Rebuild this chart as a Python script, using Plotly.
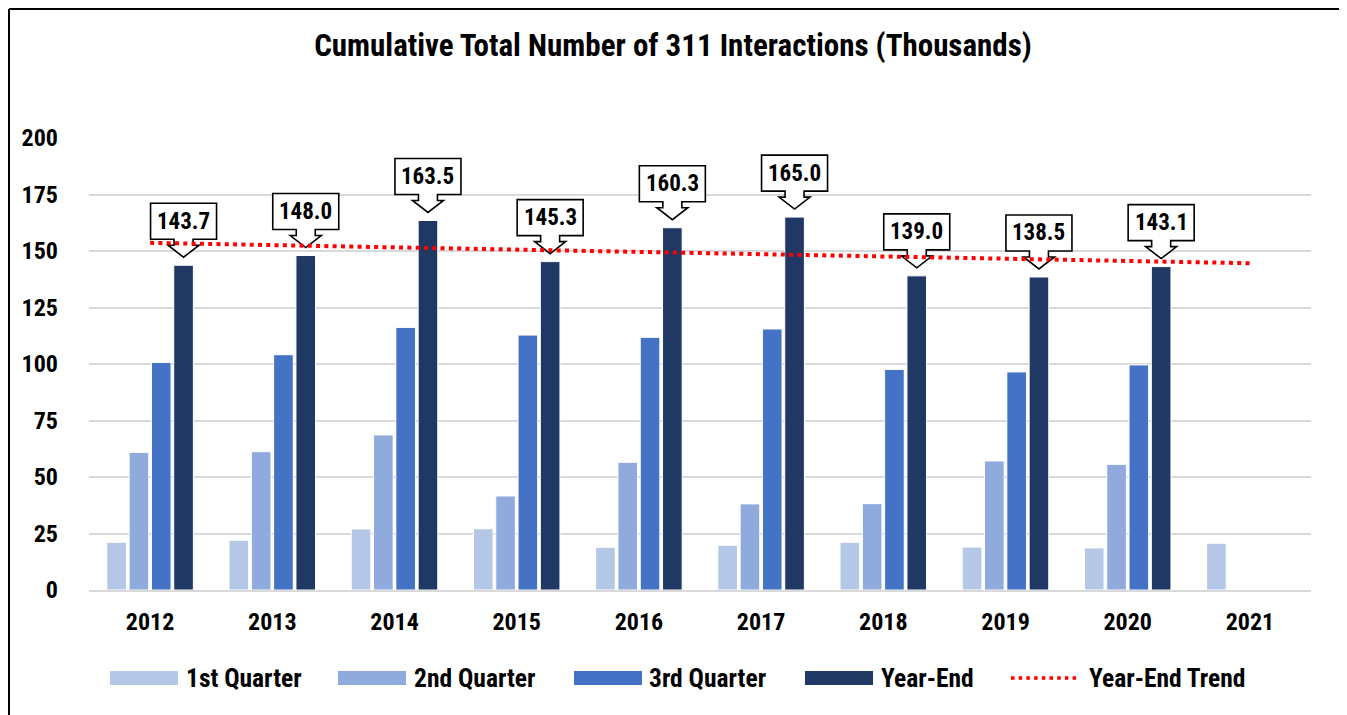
import numpy as np
import plotly.graph_objects as go

# ---------------- data ----------------
years = [2012, 2013, 2014, 2015, 2016, 2017, 2018, 2019, 2020, 2021]
q1 = [21.1, 22.0, 27.0, 27.1, 18.9, 19.8, 21.1, 19.0, 18.6, 20.7]
q2 = [60.9, 61.2, 68.6, 41.6, 56.5, 38.1, 38.2, 57.1, 55.6, None]
q3 = [100.7, 104.1, 116.2, 112.8, 111.8, 115.5, 97.6, 96.5, 99.6, None]
year_end = [143.7, 148.0, 163.5, 145.3, 160.3, 165.0, 139.0, 138.5, 143.1, None]
series_names = ["1st Quarter", "2nd Quarter", "3rd Quarter", "Year-End"]
trend_name = "Year-End Trend"
title_text = "Cumulative Total Number of 311 Interactions (Thousands)"
y_ticks = [0, 25, 50, 75, 100, 125, 150, 175, 200]

# ---------------- style ----------------
OFF = 8                      # page body margin of the html page
W, H = 1347 - OFF, 715 - OFF
ML, MR, MT, MB = 89 - OFF, 36, 138 - OFF, 125
PW, PH = W - ML - MR, H - MT - MB
FONT = "Roboto Condensed, DejaVu Sans Condensed, Liberation Sans Narrow, Liberation Sans, Arial, sans-serif"
FS_TITLE, FS_TICK, FS_CALL, FS_LEG = 31, 24, 23, 25.5
colors = ["#B4C7E7", "#8FAADC", "#4472C4", "#203864"]
BARGAP = 0.27
GRID = "#D9D9D9"


def px_x(p):
    """reference-screen pixel -> paper x"""
    return (p - OFF - ML) / PW


def px_y(p):
    """reference-screen pixel -> paper y"""
    return (H - MB - (p - OFF)) / PH


fig = go.Figure()
for name, vals, col in zip(series_names, [q1, q2, q3, year_end], colors):
    fig.add_trace(go.Bar(x=years, y=vals, name=name, marker_color=col,
                         marker_line=dict(color="white", width=1),
                         showlegend=False))

# linear trend of Year-End values
fx = [y for y, v in zip(years, year_end) if v is not None]
fy = [v for v in year_end if v is not None]
slope, icpt = np.polyfit(fx, fy, 1)
trend = [slope * y + icpt for y in years]
fig.add_trace(go.Scatter(x=years, y=trend, mode="lines", name=trend_name,
                         line=dict(color="#FF0000", width=4, dash="4px,4.3px"),
                         showlegend=False))

# callouts for year-end values
offset = (1 - BARGAP) * 0.375
callout_path = ("M -33,26 L -9.5,26 L -9.5,20 L -15.5,20 L 0,8 L 15.5,20 "
                "L 9.5,20 L 9.5,26 L 33,26 L 33,62 L -33,62 Z")
shapes = []
annotations = []
for y, v in zip(years, year_end):
    if v is None:
        continue
    shapes.append(dict(type="path", xref="x", yref="y",
                       xsizemode="pixel", ysizemode="pixel",
                       xanchor=y + offset, yanchor=v, path=callout_path,
                       fillcolor="white", line=dict(color="black", width=1.6),
                       layer="between"))
    annotations.append(dict(x=y + offset, y=v, xref="x", yref="y",
                            text=f"<b>{v:.1f}</b>", showarrow=False,
                            yshift=44, yanchor="middle", xanchor="center",
                            font=dict(family=FONT, size=FS_CALL, color="black")))

# outer border (left, top, right)
border = dict(color="black", width=2)
shapes.append(dict(type="line", xref="paper", yref="paper", layer="above",
                   x0=px_x(9), x1=px_x(9), y0=px_y(9), y1=px_y(716), line=border))
shapes.append(dict(type="line", xref="paper", yref="paper", layer="above",
                   x0=px_x(9), x1=px_x(1343), y0=px_y(9), y1=px_y(9), line=border))
shapes.append(dict(type="line", xref="paper", yref="paper", layer="above",
                   x0=px_x(1343), x1=px_x(1343), y0=px_y(9), y1=px_y(716), line=border))

# custom legend
leg_y = 678
leg_items = [
    (series_names[0], colors[0], "bar", 110, 178, 184),
    (series_names[1], colors[1], "bar", 338, 406, 412),
    (series_names[2], colors[2], "bar", 574, 642, 647),
    (series_names[3], colors[3], "bar", 805, 873, 879),
    (trend_name, "#FF0000", "line", 1011, 1080, 1087),
]
for label, col, kind, x0, x1, tx in leg_items:
    if kind == "bar":
        shapes.append(dict(type="rect", xref="paper", yref="paper",
                           x0=px_x(x0), x1=px_x(x1), y0=px_y(leg_y + 7), y1=px_y(leg_y - 7),
                           fillcolor=col, line=dict(width=0)))
    else:
        shapes.append(dict(type="line", xref="paper", yref="paper",
                           x0=px_x(x0), x1=px_x(x1), y0=px_y(leg_y), y1=px_y(leg_y),
                           line=dict(color=col, width=3.5, dash="3.5px,4.2px")))
    annotations.append(dict(x=px_x(tx), y=px_y(leg_y), xref="paper", yref="paper",
                            text=f"<b>{label}</b>", showarrow=False,
                            xanchor="left", yanchor="middle",
                            font=dict(family=FONT, size=FS_LEG, color="black")))

fig.update_layout(
    width=W, height=H,
    margin=dict(l=ML, r=MR, t=MT, b=MB),
    paper_bgcolor="white", plot_bgcolor="white",
    barmode="group", bargap=BARGAP, bargroupgap=0.12,
    title=dict(text=f"<b>{title_text}</b>", x=(673 - OFF) / W, xref="container",
               y=1 - (45 - OFF) / H, yref="container",
               yanchor="middle", xanchor="center",
               font=dict(family=FONT, size=FS_TITLE, color="black")),
    font=dict(family=FONT, color="black"),
    shapes=shapes, annotations=annotations,
    showlegend=False,
)
fig.update_xaxes(range=[2011.5, 2021.5], tickmode="array", tickvals=years,
                 ticktext=[f"<b>{y}</b>" for y in years],
                 tickfont=dict(family=FONT, size=FS_TICK, color="black"),
                 showgrid=False, showline=True, linecolor=GRID, linewidth=1.5,
                 ticks="", ticklabelstandoff=9, zeroline=False)
fig.update_yaxes(range=[0, 200], tickmode="array", tickvals=y_ticks,
                 ticktext=[f"<b>{t}</b>" for t in y_ticks],
                 tickfont=dict(family=FONT, size=FS_TICK, color="black"),
                 showgrid=True, gridcolor=GRID, gridwidth=1.5,
                 zeroline=False, showline=False, ticks="", ticklabelstandoff=30)

fig.write_html("out.html")
